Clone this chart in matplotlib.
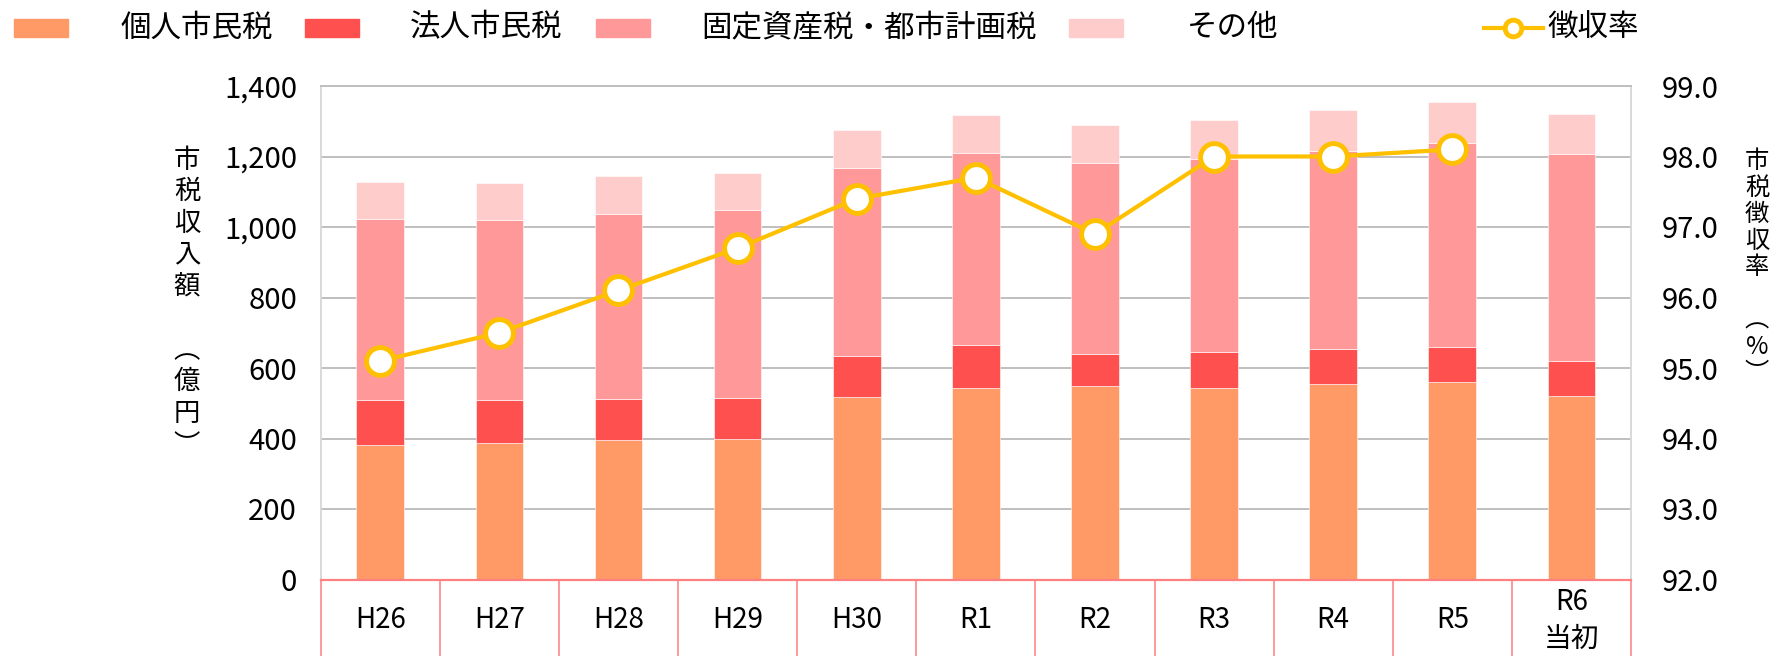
import matplotlib
matplotlib.use("Agg")
import matplotlib.pyplot as plt
from matplotlib.patches import Rectangle
from matplotlib.lines import Line2D
import numpy as np

# --- data ---
years = ["H26", "H27", "H28", "H29", "H30", "R1", "R2", "R3", "R4", "R5", "R6\n当初"]
individual = [381, 387, 395, 399, 517, 542, 548, 542, 554, 561, 520]   # 個人市民税
corporate = [127, 121, 116, 115, 117, 123, 91, 103, 100, 99, 99]       # 法人市民税
fixed_asset = [514, 512, 526, 534, 533, 545, 542, 548, 563, 578, 587]  # 固定資産税・都市計画税
other = [106, 106, 108, 105, 108, 108, 108, 111, 115, 117, 115]         # その他
collection_rate = [95.1, 95.5, 96.1, 96.7, 97.4, 97.7, 96.9, 98.0, 98.0, 98.1, np.nan]

series_names = ["個人市民税", "法人市民税", "固定資産税・都市計画税", "その他"]
series_colors = ["#FF9966", "#FF5050", "#FF9999", "#FFCCCC"]
line_name = "徴収率"
line_color = "#FFC000"
left_label = ["市", "税", "収", "入", "額", "", "︵", "億", "円", "︶"]
right_label = ["市", "税", "徴", "収", "率", "", "︵", "%", "︶"]

JP_FONT = ["Noto Sans CJK JP", "DejaVu Sans"]
NUM_FONT = ["Liberation Sans Narrow", "Noto Sans CJK JP", "DejaVu Sans"]
plt.rcParams["font.family"] = JP_FONT

W, H = 1773, 656


def fx(px):
    return px / W


def fy(py):
    return 1 - py / H


fig = plt.figure(figsize=(W / 100, H / 100), dpi=100)
ax_left, ax_right, ax_top, ax_bot = 320.7, 1631, 86, 579.5
ax = fig.add_axes([fx(ax_left), fy(ax_bot), fx(ax_right) - fx(ax_left), fy(ax_top) - fy(ax_bot)])

x = np.arange(len(years))
stacks = [individual, corporate, fixed_asset, other]
bottom = np.zeros(len(years))
for vals, color in zip(stacks, series_colors):
    ax.bar(x, vals, width=0.4, bottom=bottom, color=color,
           edgecolor="#FFFFFF", linewidth=0.4, zorder=2)
    bottom += np.array(vals)

ax.set_xlim(-0.5, len(years) - 0.5)
ax.set_ylim(0, 1400)
ax.set_yticks(np.arange(0, 1401, 200))
ax.set_yticklabels([f"{v:,}" for v in range(0, 1401, 200)], fontfamily=NUM_FONT, fontsize=21)
ax.tick_params(axis="y", length=0, pad=17)
ax.set_xticks([])
ax.yaxis.grid(True, color="#BFBFBF", linewidth=1.4, zorder=0)
ax.set_axisbelow(True)
ax.spines["top"].set_color("#BFBFBF")
ax.spines["top"].set_linewidth(1.4)
ax.spines["left"].set_color("#D9D9D9")
ax.spines["right"].set_color("#D9D9D9")
ax.spines["left"].set_linewidth(1.4)
ax.spines["right"].set_linewidth(1.4)
ax.spines["bottom"].set_color("#FF8080")
ax.spines["bottom"].set_linewidth(1.6)

# table-like category cells below the plot
tr = ax.get_xaxis_transform()
fig_bottom_axes = -fy(ax_bot) / (fy(ax_top) - fy(ax_bot))
for i in range(len(years) + 1):
    ax.plot([i - 0.5, i - 0.5], [0, fig_bottom_axes], color="#FF9999",
            linewidth=1.4, transform=tr, clip_on=False)
label_y = (fy(620) - fy(ax_bot)) / (fy(ax_top) - fy(ax_bot))
for i, lab in enumerate(years):
    ax.text(i, label_y, lab, transform=tr, ha="center", va="center",
            fontsize=20, fontfamily=NUM_FONT, linespacing=1.3)

# collection rate on the right axis
ax2 = ax.twinx()
ax2.plot(x, collection_rate, color=line_color, linewidth=3.0, marker="o",
         markersize=20, markerfacecolor="white", markeredgecolor=line_color,
         markeredgewidth=3.5, zorder=5)
ax2.set_ylim(92, 99)
ax2.set_yticks(np.arange(92, 99.1, 1))
ax2.set_yticklabels([f"{v:.1f}" for v in np.arange(92, 99.1, 1)], fontfamily=NUM_FONT, fontsize=21)
ax2.tick_params(axis="y", length=0, pad=22)
for s in ax2.spines.values():
    s.set_visible(False)

# vertical axis titles, one character per line
for i, ch in enumerate(left_label):
    if ch:
        fig.text(fx(187), fy(160 + 31.7 * i), ch, ha="center", va="center", fontsize=19)
for i, ch in enumerate(right_label):
    if ch:
        fig.text(fx(1757), fy(161 + 26.5 * i), ch, ha="center", va="center", fontsize=17.5)

# legend drawn by hand along the top
patch_x = [13.6, 305, 596, 1068.5]
text_x = [121, 410, 701, 1187]
for px, tx, name, color in zip(patch_x, text_x, series_names, series_colors):
    fig.add_artist(Rectangle((fx(px), fy(37)), fx(54), 18 / H, color=color,
                             transform=fig.transFigure))
    fig.text(fx(tx), fy(28), name, ha="left", va="center", fontsize=22)
fig.add_artist(Line2D([fx(1484), fx(1543)], [fy(28), fy(28)], color=line_color,
                      linewidth=3.0, transform=fig.transFigure))
fig.add_artist(Line2D([fx(1513)], [fy(28)], marker="o", markersize=12,
                      markerfacecolor="white", markeredgecolor=line_color,
                      markeredgewidth=3.5, transform=fig.transFigure))
fig.text(fx(1547), fy(28), line_name, ha="left", va="center", fontsize=22)

fig.savefig("out.png", dpi=100)
